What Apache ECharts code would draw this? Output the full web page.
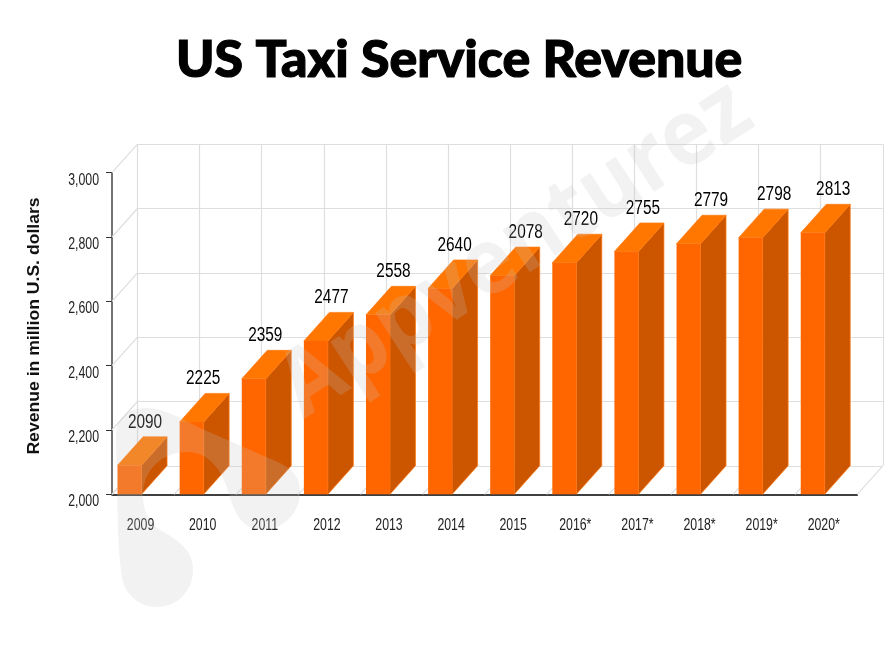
<!DOCTYPE html>
<html>
<head>
<meta charset="utf-8">
<title>US Taxi Service Revenue</title>
<script src="https://cdn.jsdelivr.net/npm/echarts@6/dist/echarts.min.js"></script>
<style>
  html, body { margin: 0; padding: 0; background: #fff; }
  #chart { width: 884px; height: 650px; }
</style>
</head>
<body>
<div id="chart"></div>
<script>
const years = ['2009', '2010', '2011', '2012', '2013', '2014', '2015', '2016*', '2017*', '2018*', '2019*', '2020*'];
// bar heights as drawn
const revenue = [2090, 2225, 2359, 2477, 2558, 2640, 2680, 2720, 2755, 2779, 2798, 2813];
// printed labels, 2015 really says 2078 in the picture
const printedLabels = ['2090', '2225', '2359', '2477', '2558', '2640', '2078', '2720', '2755', '2779', '2798', '2813'];
const yTicks = [2000, 2200, 2400, 2600, 2800, 3000];

// depth of the fake 3d box
const depthX = 25.5;
const depthY = -28.5;
const labelNudge = [2, -2, -2, 2, 2, 1, 10, 3, 3, 9, 10, 7];
const gridColor = '#dedede';

const watermarkFill = 'rgba(194,194,194,0.216)';
const logoPath = 'M147 408 C128 408 116 418 116 436 L118 533 C119 550 120 565 122 578 C126 596 140 607 157 607 C178 607 193 590 193 570 C193 552 182 542 160 530 C148 522 143 510 143 495 C143 470 162 452 187 452 C208 452 222 468 230 497 C236 518 246 530 262 530 C284 530 300 512 300 492 C300 478 294 470 280 463 L200 428 C180 418 163 408 147 408 Z';

const chart = echarts.init(document.getElementById('chart'));

function renderBar(params, api) {
    const i = api.value(0);
    const top = api.coord([i, api.value(1)]);
    const base = api.coord([i, 2000]);
    const x0 = top[0] - 25.5;
    const x1 = top[0] - 1.5;
    const yt = top[1];
    const yb = base[1];
    const edge = { stroke: '#ff7a10', lineWidth: 0.7 };
    return {
        type: 'group',
        children: [
            {
                type: 'polygon',
                shape: { points: [[x1, yb], [x1 + depthX, yb + depthY], [x1 + depthX, yt + depthY], [x1, yt]] },
                style: Object.assign({ fill: '#cc5500' }, edge)
            },
            {
                type: 'polygon',
                shape: { points: [[x0, yt], [x1, yt], [x1 + depthX, yt + depthY], [x0 + depthX, yt + depthY]] },
                style: Object.assign({ fill: '#ff7700' }, edge)
            },
            {
                type: 'rect',
                shape: { x: x0, y: yt, width: x1 - x0, height: yb - yt },
                style: { fill: '#ff6600' }
            },
            {
                // no narrow font here, so squeeze the normal one
                type: 'text',
                x: top[0] + labelNudge[i],
                y: yt + depthY - 14.5,
                scaleX: 0.77,
                style: {
                    text: printedLabels[i],
                    fill: '#000',
                    font: '20px "Liberation Sans"',
                    align: 'center',
                    verticalAlign: 'middle'
                }
            }
        ]
    };
}

// diagonal floor lines, one on the left of each category plus the closing one
function renderFloor(params, api) {
    const i = api.value(0);
    const c = api.coord([i, 2000]);
    const band = api.size([1, 0])[0];
    const style = { stroke: gridColor, lineWidth: 1.2 };
    const lines = [c[0] - band / 2];
    if (i === years.length - 1) lines.push(c[0] + band / 2);
    return {
        type: 'group',
        children: lines.map(x => ({
            type: 'line',
            shape: { x1: x, y1: c[1], x2: x + depthX, y2: c[1] + depthY },
            style: style
        }))
    };
}

// diagonal lines up the left wall, with the squeezed tick label next to them
function renderSide(params, api) {
    const v = api.value(0);
    const p = api.coord([0, v]);
    const band = api.size([1, 0])[0];
    const x = p[0] - band / 2;
    return {
        type: 'group',
        children: [
            {
                type: 'line',
                shape: { x1: x, y1: p[1], x2: x + depthX, y2: p[1] + depthY },
                style: { stroke: gridColor, lineWidth: 1.2 }
            },
            {
                type: 'text',
                x: x - 13,
                y: p[1] + 7.5,
                scaleX: 0.77,
                style: {
                    text: v.toLocaleString('en-US'),
                    fill: '#222',
                    font: '16px "Liberation Sans"',
                    align: 'right',
                    verticalAlign: 'middle'
                }
            }
        ]
    };
}

// squeezed year labels under the ticks
function renderYear(params, api) {
    const i = api.value(0);
    const c = api.coord([i, 2000]);
    return {
        type: 'text',
        x: c[0] - 2.5,
        y: c[1] + 31,
        scaleX: 0.77,
        style: {
            text: years[i],
            fill: '#222',
            font: '16px "Liberation Sans"',
            align: 'center',
            verticalAlign: 'middle'
        }
    };
}

// logo blob behind the word mark, only custom series can draw a svg path
function renderLogo() {
    return {
        type: 'path',
        shape: { pathData: logoPath, layout: 'cover', x: 116, y: 408, width: 184, height: 199 },
        style: { fill: watermarkFill }
    };
}

const option = {
    animation: false,
    backgroundColor: '#fff',
    title: {
        text: 'US Taxi Service Revenue',
        left: 171,
        top: 29,
        textStyle: {
            fontFamily: 'Lato',
            fontWeight: 900,
            fontSize: 51.8,
            color: '#000',
            textBorderColor: '#000',
            textBorderWidth: 1.2
        }
    },
    grid: [
        { left: 112, top: 172.7, width: 745.3, height: 321.6 },
        { left: 112 + depthX, top: 172.7 + depthY, width: 745.3, height: 321.6 }
    ],
    xAxis: [
        {
            type: 'category',
            gridIndex: 0,
            data: years,
            axisLine: { lineStyle: { color: '#000', width: 1.5 } },
            axisTick: { alignWithLabel: true, length: 10, lineStyle: { color: '#333', width: 1 } },
            axisLabel: { show: false },
            splitLine: { show: false }
        },
        {
            type: 'category',
            gridIndex: 1,
            data: years,
            axisLine: { show: false },
            axisTick: { show: false },
            axisLabel: { show: false },
            splitLine: { show: true, interval: 0, lineStyle: { color: gridColor, width: 1.2 } }
        }
    ],
    yAxis: [
        {
            type: 'value',
            gridIndex: 0,
            min: 2000,
            max: 3000,
            interval: 200,
            axisLine: { show: true, lineStyle: { color: '#444', width: 1.5 } },
            axisTick: { show: true, length: 6, lineStyle: { color: '#333', width: 1 } },
            axisLabel: { show: false },
            splitLine: { show: false }
        },
        {
            type: 'value',
            gridIndex: 1,
            min: 2000,
            max: 3000,
            interval: 200,
            axisLine: { show: false },
            axisTick: { show: false },
            axisLabel: { show: false },
            splitLine: { show: true, lineStyle: { color: gridColor, width: 1.2 } }
        }
    ],
    series: [
        {
            type: 'custom',
            name: 'floor',
            xAxisIndex: 0,
            yAxisIndex: 0,
            z: 1,
            silent: true,
            clip: false,
            encode: { x: 0 },
            data: years.map((y, i) => [i]),
            renderItem: renderFloor
        },
        {
            type: 'custom',
            name: 'side wall',
            xAxisIndex: 0,
            yAxisIndex: 0,
            z: 1,
            silent: true,
            clip: false,
            encode: { y: 0 },
            data: yTicks.map(v => [v]),
            renderItem: renderSide
        },
        {
            type: 'custom',
            name: 'years',
            xAxisIndex: 0,
            yAxisIndex: 0,
            z: 1,
            silent: true,
            clip: false,
            encode: { x: 0 },
            data: years.map((y, i) => [i]),
            renderItem: renderYear
        },
        {
            type: 'custom',
            name: 'Revenue',
            xAxisIndex: 0,
            yAxisIndex: 0,
            z: 3,
            clip: false,
            encode: { x: 0, y: 1 },
            data: revenue.map((v, i) => [i, v]),
            renderItem: renderBar
        },
        {
            type: 'custom',
            name: 'logo',
            xAxisIndex: 0,
            yAxisIndex: 0,
            z: 40,
            silent: true,
            clip: false,
            data: [[0]],
            renderItem: renderLogo
        }
    ],
    graphic: [
        {
            type: 'text',
            silent: true,
            x: 34.5,
            y: 326,
            rotation: Math.PI / 2,
            scaleX: 1.1,
            style: {
                text: 'Revenue in million U.S. dollars',
                fill: '#111',
                font: 'bold 16px "Liberation Sans"',
                align: 'center',
                verticalAlign: 'middle'
            }
        },
        {
            type: 'text',
            z: 50,
            silent: true,
            x: 314,
            y: 436,
            rotation: 33 * Math.PI / 180,
            scaleX: 0.92,
            style: {
                text: 'Appventurez',
                fill: watermarkFill,
                font: '700 92px "Open Sans"',
                align: 'left',
                verticalAlign: 'bottom'
            }
        }
    ]
};

chart.setOption(option);
</script>
</body>
</html>
